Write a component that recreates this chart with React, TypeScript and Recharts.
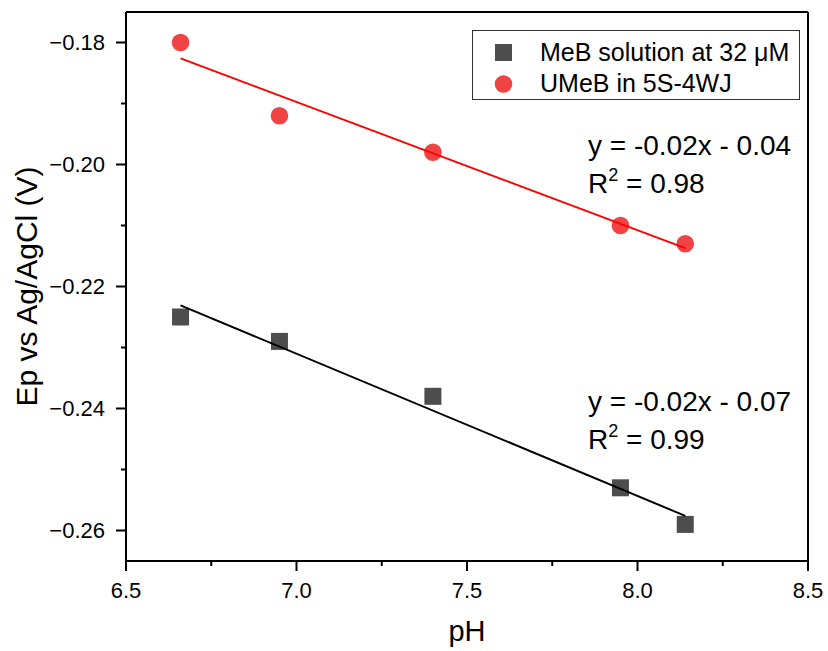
import React from 'react';
import { ScatterChart, Scatter, XAxis, YAxis, ReferenceLine, Legend } from 'recharts';

const pH = [6.66, 6.95, 7.4, 7.95, 8.14];
const mebEp = [-0.225, -0.229, -0.238, -0.253, -0.259];
const umebEp = [-0.18, -0.192, -0.198, -0.21, -0.213];

// ends of the fitted lines, as drawn
const fitPH = [6.66, 8.14];
const mebFit = [-0.2231, -0.2576];
const umebFit = [-0.1826, -0.2137];

const seriesNames = ['MeB solution at 32 \u03bcM', 'UMeB in 5S-4WJ'];
const umebEq = ['y = -0.02x - 0.04', '0.98'];
const mebEq = ['y = -0.02x - 0.07', '0.99'];

const xDomain = [6.5, 8.5];
const yDomain = [-0.265, -0.175];
const xTicks = [6.5, 6.75, 7, 7.25, 7.5, 7.75, 8, 8.25, 8.5];
const xMajor = [6.5, 7, 7.5, 8, 8.5];
const yTicks = [-0.26, -0.25, -0.24, -0.23, -0.22, -0.21, -0.2, -0.19, -0.18];
const yMajor = [-0.26, -0.24, -0.22, -0.2, -0.18];

const FONT = '"Liberation Sans", Arial, sans-serif';
const RED = '#f04343';
const GREY = '#4d4d4d';

const mebData = pH.map((x, i) => ({ x, y: mebEp[i] }));
const umebData = pH.map((x, i) => ({ x, y: umebEp[i] }));
const mebFitData = fitPH.map((x, i) => ({ x, y: mebFit[i] }));
const umebFitData = fitPH.map((x, i) => ({ x, y: umebFit[i] }));

const XTick = (p: any) => {
  const v = p.payload.value;
  const major = xMajor.some((m) => Math.abs(m - v) < 1e-6);
  const ay = p.y - 21; // back to axis line
  return (
    <g>
      <line x1={p.x} x2={p.x} y1={ay} y2={ay + (major ? 10 : 5)} stroke="#000" strokeWidth={2} />
      {major && (
        <text x={p.x} y={p.y} dy="0.71em" textAnchor="middle" fontSize={22} fontFamily={FONT} fill="#000">
          {v.toFixed(1)}
        </text>
      )}
    </g>
  );
};

const YTick = (p: any) => {
  const v = p.payload.value;
  const major = yMajor.some((m) => Math.abs(m - v) < 1e-6);
  const ax = p.x + 21;
  return (
    <g>
      <line x1={ax - (major ? 10 : 5)} x2={ax} y1={p.y} y2={p.y} stroke="#000" strokeWidth={2} />
      {major && (
        <text x={p.x} y={p.y} dy="0.35em" textAnchor="end" fontSize={22} fontFamily={FONT} fill="#000">
          {v.toFixed(2).replace('-', '\u2212')}
        </text>
      )}
    </g>
  );
};

const Square = (p: any) => <rect x={p.cx - 8.5} y={p.cy - 8.5} width={17} height={17} fill={GREY} />;
const Dot = (p: any) => <circle cx={p.cx} cy={p.cy} r={8.8} fill={RED} />;
const NoShape = () => <g />;

const LegendBox = () => (
  <div
    style={{
      width: 326,
      height: 68,
      border: '1px solid #333',
      background: '#fff',
      boxSizing: 'content-box',
    }}
  >
    <svg width={326} height={68} style={{ display: 'block' }}>
      <rect x={22} y={13} width={17} height={17} fill={GREY} />
      <text x={67} y={30} fontSize={25} fontFamily={FONT}>{seriesNames[0]}</text>
      <circle cx={30.5} cy={53} r={8.8} fill={RED} />
      <text x={67} y={61} fontSize={25} fontFamily={FONT}>{seriesNames[1]}</text>
    </svg>
  </div>
);

const Equation = ({ x, y, eq }: { x: number; y: number; eq: string[] }) => (
  <g fontFamily={FONT} fontSize={28} fill="#000">
    <text x={x} y={y}>{eq[0]}</text>
    <text x={x} y={y + 38}>
      R<tspan fontSize={18} dy={-12}>2</tspan>
      <tspan dy={12}> = {eq[1]}</tspan>
    </text>
  </g>
);

export default function App() {
  return (
    <div style={{ position: 'absolute', left: 0, top: 0, width: 828, height: 651, background: '#fff' }}>
      <ScatterChart width={828} height={651} margin={{ top: 12, right: 20, bottom: 10, left: 10 }}>
        <XAxis
          type="number"
          dataKey="x"
          domain={xDomain}
          ticks={xTicks}
          interval={0}
          allowDataOverflow
          height={80}
          tickSize={10}
          tickMargin={11}
          tickLine={false}
          tick={<XTick />}
          axisLine={{ stroke: '#000', strokeWidth: 2 }}
          label={{
            content: (props: any) => {
              const vb = props.viewBox;
              return (
                <text x={vb.x + vb.width / 2} y={641} textAnchor="middle" fontSize={29} fontFamily={FONT} fill="#000">
                  pH
                </text>
              );
            },
          }}
        />
        <YAxis
          type="number"
          dataKey="y"
          domain={yDomain}
          ticks={yTicks}
          interval={0}
          allowDataOverflow
          width={116}
          tickSize={10}
          tickMargin={11}
          tickLine={false}
          tick={<YTick />}
          axisLine={{ stroke: '#000', strokeWidth: 2 }}
          label={{
            content: (props: any) => {
              const vb = props.viewBox;
              const cy = vb.y + vb.height / 2;
              return (
                <text
                  x={0}
                  y={0}
                  transform={`translate(${26},${cy}) rotate(-90)`}
                  dy="0.35em"
                  textAnchor="middle"
                  fontSize={30}
                  fontFamily={FONT}
                  fill="#000"
                >
                  Ep vs Ag/AgCl (V)
                </text>
              );
            },
          }}
        />
        <ReferenceLine x={8.5} stroke="#000" strokeWidth={2} />
        <ReferenceLine y={-0.175} stroke="#000" strokeWidth={2} />
        <Scatter name={seriesNames[0]} data={mebData} shape={Square} isAnimationActive={false} />
        <Scatter name={seriesNames[1]} data={umebData} shape={Dot} isAnimationActive={false} />
        <Scatter
          data={mebFitData}
          line={{ stroke: '#000', strokeWidth: 2 }}
          shape={NoShape}
          legendType="none"
          isAnimationActive={false}
        />
        <Scatter
          data={umebFitData}
          line={{ stroke: '#ff0000', strokeWidth: 2 }}
          shape={NoShape}
          legendType="none"
          isAnimationActive={false}
        />
        <Legend
          layout="horizontal"
          verticalAlign="middle"
          align="center"
          content={<LegendBox />}
          wrapperStyle={{ position: 'absolute', left: 472, top: 30, width: 328, height: 70 }}
        />
      </ScatterChart>
      <svg width={828} height={651} style={{ position: 'absolute', left: 0, top: 0, pointerEvents: 'none' }}>
        <Equation x={588} y={155} eq={umebEq} />
        <Equation x={588} y={411} eq={mebEq} />
      </svg>
    </div>
  );
}
